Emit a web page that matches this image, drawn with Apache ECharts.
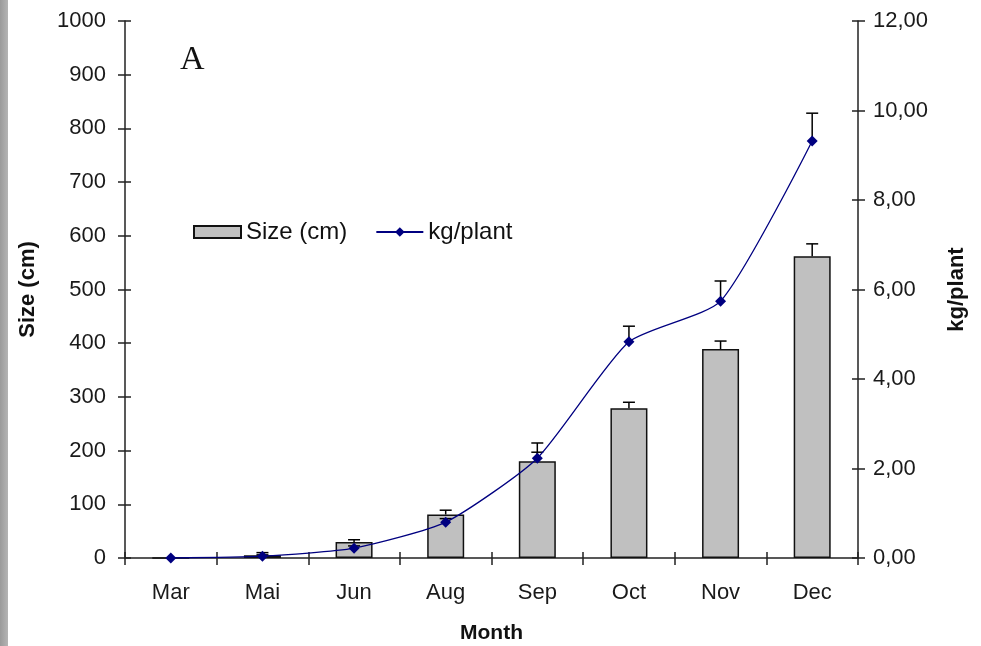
<!DOCTYPE html>
<html>
<head>
<meta charset="utf-8">
<script src="https://cdn.jsdelivr.net/npm/echarts@6/dist/echarts.min.js"></script>
<style>
  html, body { margin: 0; padding: 0; background: #fff; }
  #chart { width: 981px; height: 646px; }
</style>
</head>
<body>
<div id="chart"></div>
<script>
// Monthly plant growth: mean size (bars) and yield per plant (line), with error bars
const months = ['Mar', 'Mai', 'Jun', 'Aug', 'Sep', 'Oct', 'Nov', 'Dec'];
const sizeCm = [0, 5, 30, 81, 180, 279, 389, 562];
const sizeErr = [0, 5, 4, 8, 17, 11, 15, 23];
const kgPlant = [0, 0.04, 0.22, 0.80, 2.23, 4.83, 5.74, 9.32];
const kgErr = [0, 0.03, 0.05, 0.08, 0.34, 0.35, 0.45, 0.62];
const sizeTicks = [0, 1000, 100];
const kgTicks = [0, 12, 2];

const FONT = 'Liberation Sans, Arial, sans-serif';
const chart = echarts.init(document.getElementById('chart'), null, { renderer: 'canvas' });

// vertical whisker from the mean up to mean + error, with a short cap
function errorBars() {
  return function (params, api) {
    if (api.value(2) <= 0) return null;
    const i = api.value(0);
    const top = api.coord([i, api.value(1) + api.value(2)]);
    const base = api.coord([i, api.value(1)]);
    const half = 6;
    const style = { stroke: '#000', lineWidth: 1.5 };
    return {
      type: 'group',
      children: [
        { type: 'line', shape: { x1: base[0], y1: base[1], x2: top[0], y2: top[1] }, style },
        { type: 'line', shape: { x1: top[0] - half, y1: top[1], x2: top[0] + half, y2: top[1] }, style }
      ]
    };
  };
}

const axisLine = { show: true, lineStyle: { color: '#222', width: 1.5 } };
const tickStyle = { color: '#222', width: 1.5 };
const labelStyle = { color: '#1a1a1a', fontFamily: FONT, fontSize: 22 };
const nameStyle = { fontFamily: FONT, fontSize: 22, fontWeight: 'bold', color: '#111' };

const option = {
  backgroundColor: '#fff',
  animation: false,
  grid: { left: 125, right: 123, top: 21, bottom: 88, containLabel: false, outerBoundsMode: 'none' },
  legend: {
    left: 188, top: 215, itemGap: 28, itemWidth: 47, itemHeight: 12,
    textStyle: { fontFamily: FONT, fontSize: 24, color: '#111' },
    data: [
      { name: 'Size (cm)', icon: 'rect' },
      { name: 'kg/plant' }
    ]
  },
  xAxis: [
    {
      type: 'category', data: months, boundaryGap: true,
      name: 'Month', nameLocation: 'middle', nameGap: 65,
      nameTextStyle: Object.assign({}, nameStyle, { fontSize: 21 }),
      axisLine, axisTick: { show: true, length: 7, lineStyle: tickStyle },
      axisLabel: Object.assign({ margin: 24 }, labelStyle),
      splitLine: { show: false }
    },
    {
      type: 'category', data: months, boundaryGap: true, position: 'bottom',
      axisLine: { show: false },
      axisTick: { show: true, inside: true, length: 6, lineStyle: tickStyle },
      axisLabel: { show: false }, splitLine: { show: false }
    }
  ],
  yAxis: [
    {
      type: 'value', min: sizeTicks[0], max: sizeTicks[1], interval: sizeTicks[2],
      position: 'left',
      name: 'Size (cm)', nameLocation: 'middle', nameGap: 86, nameRotate: 90,
      nameTextStyle: nameStyle,
      axisLine, axisTick: { show: true, length: 7, lineStyle: tickStyle },
      axisLabel: Object.assign({ margin: 19, formatter: v => String(v) }, labelStyle),
      splitLine: { show: false }
    },
    {
      type: 'value', min: kgTicks[0], max: kgTicks[1], interval: kgTicks[2],
      position: 'right',
      name: 'kg/plant', nameLocation: 'middle', nameGap: 88, nameRotate: 90,
      nameTextStyle: nameStyle,
      axisLine, axisTick: { show: true, length: 7, lineStyle: tickStyle },
      axisLabel: Object.assign({ margin: 15, formatter: v => v.toFixed(2).replace('.', ',') }, labelStyle),
      splitLine: { show: false }
    },
    {
      type: 'value', min: sizeTicks[0], max: sizeTicks[1], interval: sizeTicks[2], position: 'left',
      axisLine: { show: false },
      axisTick: { show: true, inside: true, length: 6, lineStyle: tickStyle },
      axisLabel: { show: false }, splitLine: { show: false }
    },
    {
      type: 'value', min: kgTicks[0], max: kgTicks[1], interval: kgTicks[2], position: 'right',
      axisLine: { show: false },
      axisTick: { show: true, inside: true, length: 6, lineStyle: tickStyle },
      axisLabel: { show: false }, splitLine: { show: false }
    }
  ],
  graphic: [
    {
      type: 'rect', left: 0, top: 0, z: 100,
      shape: { width: 8, height: 646 },
      style: {
        fill: new echarts.graphic.LinearGradient(0, 0, 1, 0, [
          { offset: 0, color: '#9a9a9a' },
          { offset: 1, color: '#b4b4b4' }
        ])
      }
    },
    {
      type: 'text', left: 180, top: 43, z: 100,
      style: { text: 'A', fontFamily: 'Liberation Serif, DejaVu Serif, serif', fontSize: 34, fill: '#111' }
    }
  ],
  series: [
    {
      name: 'Size (cm)', type: 'bar', xAxisIndex: 0, yAxisIndex: 0,
      data: sizeCm, barWidth: 37, z: 2,
      itemStyle: { color: '#c0c0c0', borderColor: '#111', borderWidth: 1.5 }
    },
    {
      name: 'size-err', type: 'custom', xAxisIndex: 0, yAxisIndex: 0, z: 3,
      data: months.map((m, i) => [i, sizeCm[i], sizeErr[i]]),
      renderItem: errorBars(), silent: true
    },
    {
      name: 'kg-err', type: 'custom', xAxisIndex: 0, yAxisIndex: 1, z: 3,
      data: months.map((m, i) => [i, kgPlant[i], kgErr[i]]),
      renderItem: errorBars(), silent: true
    },
    {
      name: 'kg/plant', type: 'line', xAxisIndex: 0, yAxisIndex: 1, z: 4,
      data: kgPlant, smooth: 0.2,
      symbol: 'diamond', symbolSize: 11,
      lineStyle: { color: '#000080', width: 1.3 },
      itemStyle: { color: '#000080' }
    }
  ]
};

chart.setOption(option);
</script>
</body>
</html>
